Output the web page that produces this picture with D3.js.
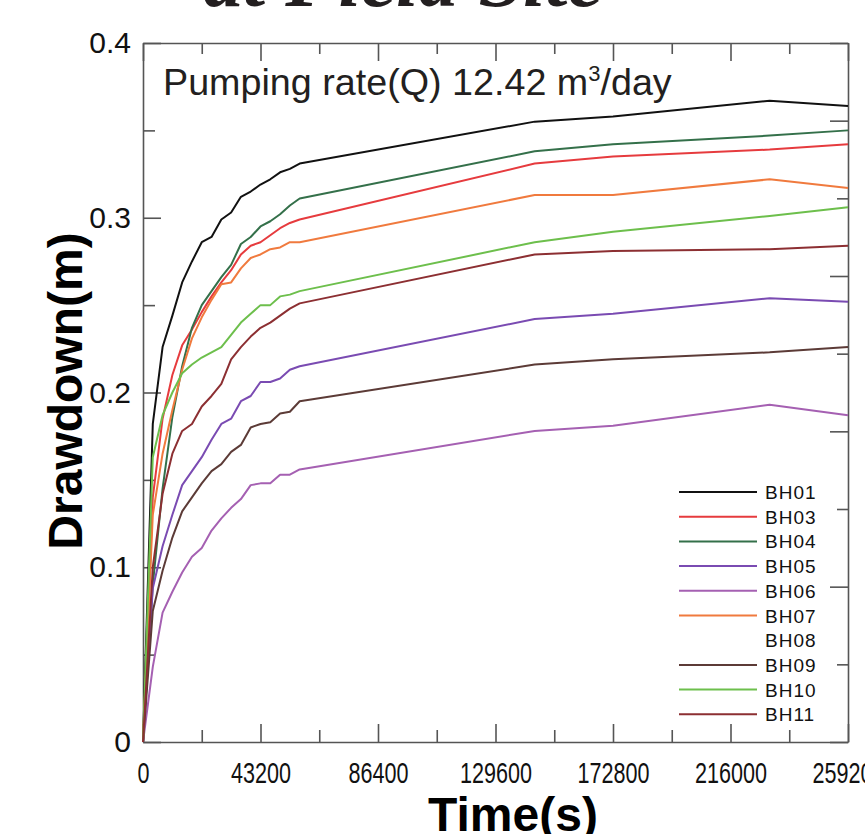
<!DOCTYPE html>
<html>
<head>
<meta charset="utf-8">
<script src="https://cdn.jsdelivr.net/npm/d3@7"></script>
<style>
body { margin: 0; background: #fff; }
svg { display: block; }
.axis path, .axis line { stroke: #555; stroke-width: 1.6; }
.axis text { font-family: "Liberation Sans", Arial, sans-serif; font-size: 30px; fill: #111; }
</style>
</head>
<body>
<div id="chart"></div>
<script>
// time steps (s): hourly for the first 16 h, then sparse readings
var times = [0, 3600, 7200, 10800, 14400, 18000, 21600, 25200, 28800, 32400, 36000,
             39600, 43200, 46800, 50400, 54000, 57600, 144000, 172800, 230400, 259200];

// drawdown (m) per borehole
var bh01 = [0, 0.182, 0.226, 0.244, 0.263, 0.275, 0.286, 0.289, 0.299, 0.303, 0.312, 0.315, 0.319, 0.322, 0.326, 0.328, 0.331, 0.355, 0.358, 0.367, 0.364];
var bh03 = [0, 0.140, 0.185, 0.210, 0.227, 0.236, 0.246, 0.255, 0.263, 0.270, 0.279, 0.284, 0.286, 0.290, 0.294, 0.297, 0.299, 0.331, 0.335, 0.339, 0.342];
var bh04 = [0, 0.090, 0.145, 0.186, 0.215, 0.237, 0.250, 0.258, 0.266, 0.273, 0.285, 0.289, 0.295, 0.298, 0.302, 0.307, 0.311, 0.338, 0.342, 0.347, 0.350];
var bh05 = [0, 0.088, 0.112, 0.130, 0.147, 0.155, 0.163, 0.173, 0.182, 0.185, 0.195, 0.198, 0.206, 0.206, 0.208, 0.213, 0.215, 0.242, 0.245, 0.254, 0.252];
var bh06 = [0, 0.043, 0.074, 0.086, 0.097, 0.106, 0.111, 0.121, 0.128, 0.134, 0.139, 0.147, 0.148, 0.148, 0.153, 0.153, 0.156, 0.178, 0.181, 0.193, 0.187];
var bh07 = [0, 0.130, 0.165, 0.190, 0.213, 0.231, 0.243, 0.253, 0.262, 0.263, 0.271, 0.277, 0.279, 0.282, 0.283, 0.286, 0.286, 0.313, 0.313, 0.322, 0.317];
var bh08 = [];
var bh09 = [0, 0.075, 0.098, 0.117, 0.132, 0.140, 0.148, 0.155, 0.159, 0.166, 0.170, 0.180, 0.182, 0.183, 0.188, 0.189, 0.195, 0.216, 0.219, 0.223, 0.226];
var bh10 = [0, 0.163, 0.187, 0.200, 0.211, 0.216, 0.220, 0.223, 0.226, 0.233, 0.240, 0.245, 0.250, 0.250, 0.255, 0.256, 0.258, 0.286, 0.292, 0.301, 0.306];
var bh11 = [0, 0.100, 0.142, 0.165, 0.178, 0.182, 0.192, 0.198, 0.205, 0.219, 0.226, 0.232, 0.237, 0.240, 0.244, 0.248, 0.251, 0.279, 0.281, 0.282, 0.284];

var names  = ["BH01", "BH03", "BH04", "BH05", "BH06", "BH07", "BH08", "BH09", "BH10", "BH11"];
var values = [bh01, bh03, bh04, bh05, bh06, bh07, bh08, bh09, bh10, bh11];
var colors = ["#111111", "#e63b3e", "#34704a", "#7a4bb2", "#a560b2", "#f07a3e", null, "#5c3b37", "#6dbf4c", "#8c2f32"];

var xTicks = [0, 43200, 86400, 129600, 172800, 216000, 259200];
var yTicks = [0, 0.1, 0.2, 0.3, 0.4];

// set the dimensions and margins of the graph
var margin = {top: 43, right: 17, bottom: 92, left: 143},
    width = 865 - margin.left - margin.right,
    height = 834 - margin.top - margin.bottom;

var x = d3.scaleLinear().domain([0, 259200]).range([0, width]);
var y = d3.scaleLinear().domain([0, 0.4]).range([height, 0]);
// right side of the frame carries its own 9-step tick marks
var yr = d3.scaleLinear().domain([0, 9]).range([height, 0]);

var svg = d3.select("#chart").append("svg")
    .attr("width", 865)
    .attr("height", 834);

svg.append("rect").attr("width", 865).attr("height", 834).attr("fill", "#fff");

// cut-off heading at the very top
svg.append("text")
    .attr("x", 403).attr("y", 6)
    .attr("text-anchor", "middle")
    .style("font-family", "'Liberation Serif', serif")
    .style("font-weight", "bold")
    .style("font-style", "italic")
    .style("font-size", "80px")
    .attr("fill", "#231f20")
    .text("at Field Site");

var g = svg.append("g")
    .attr("transform", "translate(" + margin.left + "," + margin.top + ")");

var minorX = d3.range(21600, 259200, 43200);

// bottom axis
g.append("g").attr("class", "axis xlab")
    .attr("transform", "translate(0," + height + ")")
    .call(d3.axisBottom(x).tickValues(xTicks).tickSize(-18).tickSizeOuter(0).tickPadding(20)
        .tickFormat(d3.format("d")));
g.append("g").attr("class", "axis minor")
    .attr("transform", "translate(0," + height + ")")
    .call(d3.axisBottom(x).tickValues(minorX).tickSize(-12).tickFormat(""));

// top axis
g.append("g").attr("class", "axis")
    .call(d3.axisTop(x).tickValues(xTicks).tickSize(-18).tickSizeOuter(0).tickFormat(""));
g.append("g").attr("class", "axis minor")
    .call(d3.axisTop(x).tickValues(minorX).tickSize(-11).tickFormat(""));

// left axis
g.append("g").attr("class", "axis ylab")
    .call(d3.axisLeft(y).tickValues(yTicks).tickSize(-18).tickSizeOuter(0).tickPadding(12)
        .tickFormat(function(d) { return d === 0 ? "0" : d3.format(".1f")(d); }));
g.append("g").attr("class", "axis minor")
    .call(d3.axisLeft(y).tickValues([0.05, 0.15, 0.25, 0.35]).tickSize(-12).tickFormat(""));

// right axis
g.append("g").attr("class", "axis")
    .attr("transform", "translate(" + width + ",0)")
    .call(d3.axisRight(yr).tickValues([0, 2, 4, 6, 8, 9]).tickSize(-18).tickSizeOuter(0).tickFormat(""));
g.append("g").attr("class", "axis minor")
    .attr("transform", "translate(" + width + ",0)")
    .call(d3.axisRight(yr).tickValues([1, 3, 5, 7]).tickSize(-11).tickFormat(""));

g.selectAll(".minor .domain").remove();
// narrow time numbers like the original
g.selectAll(".xlab text").attr("transform", "scale(0.72,1)");

// define the line
var valueline = d3.line()
    .x(function(d) { return x(d[0]); })
    .y(function(d) { return y(d[1]); });

names.forEach(function(name, i) {
    if (!colors[i] || values[i].length === 0) return;
    var pts = values[i].map(function(v, j) { return [times[j], v]; });
    g.append("path")
        .datum(pts)
        .attr("fill", "none")
        .attr("stroke", colors[i])
        .attr("stroke-width", 2)
        .attr("stroke-linejoin", "round")
        .attr("d", valueline);
});

// annotation
var note = g.append("text")
    .attr("x", 20).attr("y", 52)
    .style("font-family", "'Liberation Sans', Arial, sans-serif")
    .style("font-size", "37.7px")
    .attr("fill", "#231f20");
note.append("tspan").text("Pumping rate(Q) 12.42 m");
note.append("tspan").attr("dy", -14).style("font-size", "22px").text("3");
note.append("tspan").attr("dy", 14).text("/day");

// legend
var leg = g.append("g").attr("transform", "translate(536,449)");
names.forEach(function(name, i) {
    var row = leg.append("g").attr("transform", "translate(0," + (i * 24.7) + ")");
    if (colors[i]) {
        row.append("line")
            .attr("x1", 0).attr("x2", 78)
            .attr("stroke", colors[i]).attr("stroke-width", 2);
    }
    row.append("text")
        .attr("x", 86).attr("y", 7)
        .style("font-family", "'Liberation Sans', Arial, sans-serif")
        .style("font-size", "19px")
        .style("letter-spacing", "1px")
        .attr("fill", "#111")
        .text(name);
});

// axis titles
svg.append("text")
    .attr("transform", "translate(82,391) rotate(-90)")
    .attr("text-anchor", "middle")
    .style("font-family", "'Liberation Sans', Arial, sans-serif")
    .style("font-weight", "bold")
    .style("font-size", "48px")
    .attr("fill", "#000")
    .text("Drawdown(m)");

svg.append("text")
    .attr("x", 513).attr("y", 831)
    .attr("text-anchor", "middle")
    .style("font-family", "'Liberation Sans', Arial, sans-serif")
    .style("font-weight", "bold")
    .style("font-size", "48px")
    .attr("fill", "#000")
    .text("Time(s)");
</script>
</body>
</html>
